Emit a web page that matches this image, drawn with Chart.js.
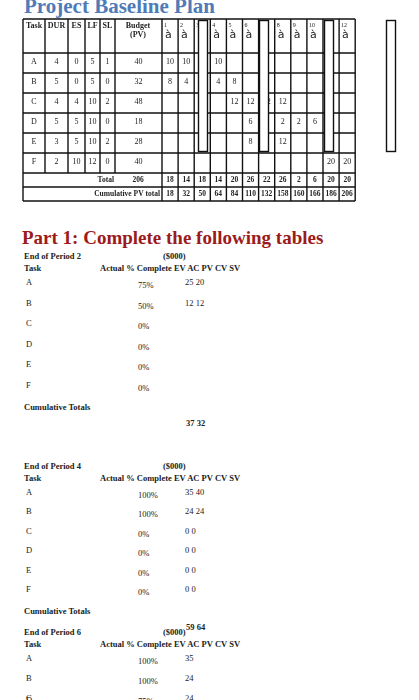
<!DOCTYPE html>
<html><head><meta charset="utf-8">
<script src="https://cdn.jsdelivr.net/npm/chart.js@4"></script>
<style>
body{margin:0;width:419px;height:700px;overflow:hidden;background:#fff;font-family:"Liberation Serif",serif;position:relative}
#title{position:absolute;left:24px;top:-6px;font-size:21px;font-weight:bold;color:#4f7cb8}
#plan{position:absolute;left:0;top:18px}
.t{position:absolute;font-size:8.5px;white-space:nowrap;color:#222}
.b{font-weight:bold}
#part{position:absolute;left:22px;top:227px;font-size:19px;font-weight:bold;color:#9b1b1b}
</style></head><body>
<div id="title">Project Baseline Plan</div>
<canvas id="plan" width="419" height="184"></canvas>
<div id="part">Part 1: Complete the following tables</div>
<div id="lower"></div>
<script>
// baseline plan
var tasks = ['A', 'B', 'C', 'D', 'E', 'F'];
var dur = [4, 5, 4, 5, 3, 2];
var es = [0, 0, 4, 5, 5, 10];
var lf = [5, 5, 10, 10, 10, 12];
var sl = [1, 0, 2, 0, 2, 0];
var budget = [40, 32, 48, 18, 28, 40];
var periods = ['1', '2', '3', '4', '5', '6', '7', '8', '9', '10', '11', '12'];
var pv = [
    [10, 10, 10, 10, null, null, null, null, null, null, null, null],
    [8, 4, 4, 4, 8, null, null, null, null, null, null, null],
    [null, null, null, null, 12, 12, 12, 12, null, null, null, null],
    [null, null, null, null, null, 6, 2, 2, 2, 6, null, null],
    [null, null, null, null, null, 8, 8, 12, null, null, null, null],
    [null, null, null, null, null, null, null, null, null, null, 20, 20]
];
var totals = [18, 14, 18, 14, 20, 26, 22, 26, 2, 6, 20, 20];
var cumulative = [18, 32, 50, 64, 84, 110, 132, 158, 160, 166, 186, 206];

// period tables
var pctP2 = ['75%', '50%', '0%', '0%', '0%', '0%'];
var evacP2 = ['25  20', '12  12', '', '', '', ''];
var pctP4 = ['100%', '100%', '0%', '0%', '0%', '0%'];
var evacP4 = ['35  40', '24  24', '0   0', '0   0', '0   0', '0   0'];
var pctP6 = ['100%', '100%', '75%'];
var evacP6 = ['35', '24', '24'];

var colX = [23, 45, 68, 85, 100, 115, 162];
for (var i = 1; i <= 12; i++) colX.push(162 + i * 16.1);
var rowY = [0, 34, 54, 74, 94, 114, 134, 154, 168, 182];

var tablePlugin = {
    id: 'tablePlugin',
    afterDraw: function (chart) {
        var c = chart.ctx;
        c.save();
        c.strokeStyle = '#111';
        c.lineWidth = 1.4;
        c.fillStyle = '#222';
        c.textAlign = 'center';
        c.textBaseline = 'middle';
        var L = colX[0], R = colX[colX.length - 1];
        rowY.forEach(function (y) { c.beginPath(); c.moveTo(L, y + 1); c.lineTo(R, y + 1); c.stroke(); });
        colX.forEach(function (x, k) {
            c.beginPath(); c.moveTo(x, 1); c.lineTo(x, k > 0 && k < 6 ? rowY[7] + 1 : rowY[9] + 1); c.stroke();
        });
        c.font = 'bold 8px "Liberation Serif"';
        var heads = ['Task', 'DUR', 'ES', 'LF', 'SL'];
        heads.forEach(function (h, k) { c.fillText(h, (colX[k] + colX[k + 1]) / 2, 8); });
        c.fillText('Budget', 138, 8); c.fillText('(PV)', 138, 17);
        periods.forEach(function (p, k) {
            c.textAlign = 'left';
            c.font = '6px "Liberation Serif"'; c.fillText(p, colX[6 + k] + 2, 7);
            c.font = '11px "DejaVu Sans"'; c.fillText('à', colX[6 + k] + 3, 17);
        });
        c.textAlign = 'center';
        c.font = '8px "Liberation Serif"';
        tasks.forEach(function (t, r) {
            var y = (rowY[r + 1] + rowY[r + 2]) / 2;
            [t, dur[r], es[r], lf[r], sl[r], budget[r]].forEach(function (v, k) {
                c.fillText(v, (colX[k] + colX[k + 1]) / 2, y);
            });
            pv[r].forEach(function (v, k) {
                if (v !== null) c.fillText(v, (colX[6 + k] + colX[7 + k]) / 2, y);
            });
        });
        c.font = 'bold 7.5px "Liberation Serif"';
        c.textAlign = 'right';
        c.fillText('Total', 114, (rowY[7] + rowY[8]) / 2 + 1);
        c.fillText('Cumulative PV total', 160, (rowY[8] + rowY[9]) / 2 + 1);
        c.textAlign = 'center';
        c.fillText(206, 138, (rowY[7] + rowY[8]) / 2 + 1);
        totals.forEach(function (v, k) { c.fillText(v, (colX[6 + k] + colX[7 + k]) / 2, (rowY[7] + rowY[8]) / 2 + 1); });
        cumulative.forEach(function (v, k) { c.fillText(v, (colX[6 + k] + colX[7 + k]) / 2, (rowY[8] + rowY[9]) / 2 + 1); });
        // overlaid blank boxes
        c.fillStyle = '#fff';
        [[198, 2, 9, 131], [259, 2, 9, 131], [324, 2, 9, 131], [386, 2, 9, 131]].forEach(function (b) {
            c.fillRect(b[0], b[1], b[2], b[3]); c.strokeRect(b[0] + .5, b[1] + .5, b[2], b[3]);
        });
        c.restore();
    }
};

new Chart(document.getElementById('plan'), {
    type: 'bar',
    data: { labels: periods, datasets: [{ data: [] }] },
    options: {
        responsive: false, animation: false,
        plugins: { legend: { display: false }, tooltip: { enabled: false } },
        scales: { x: { display: false }, y: { display: false } }
    },
    plugins: [tablePlugin]
});

var lower = document.getElementById('lower');
function txt(s, x, y, bold) {
    var d = document.createElement('div');
    d.className = 't' + (bold ? ' b' : '');
    d.style.left = x + 'px'; d.style.top = y + 'px';
    d.textContent = s;
    lower.appendChild(d);
}
function block(title, top, rows, pct, evac, tot) {
    txt(title, 24, top, true); txt('($000)', 163, top, true);
    txt('Task', 24, top + 12, true);
    txt('Actual % Complete EV AC PV CV SV', 100, top + 12, true);
    for (var i = 0; i < pct.length; i++) {
        txt(tasks[i], 26, top + 26 + i * rows, false);
        txt(pct[i], 138, top + 29 + i * rows, false);
        if (evac[i]) txt(evac[i], 185, top + 26 + i * rows, false);
    }
    if (tot) {
        var y = top + 26 + 5 * rows + 22;
        txt('Cumulative Totals', 24, y, true);
        txt(tot, 186, y + 16, true);
    }
}
block('End of Period  2', 251, 20.6, pctP2, evacP2, '37  32');
block('End of Period  4', 461, 19.4, pctP4, evacP4, '59  64');
block('End of Period  6', 627, 20, pctP6, evacP6, null);
txt('D', 26, 695, false);
</script>
</body></html>
